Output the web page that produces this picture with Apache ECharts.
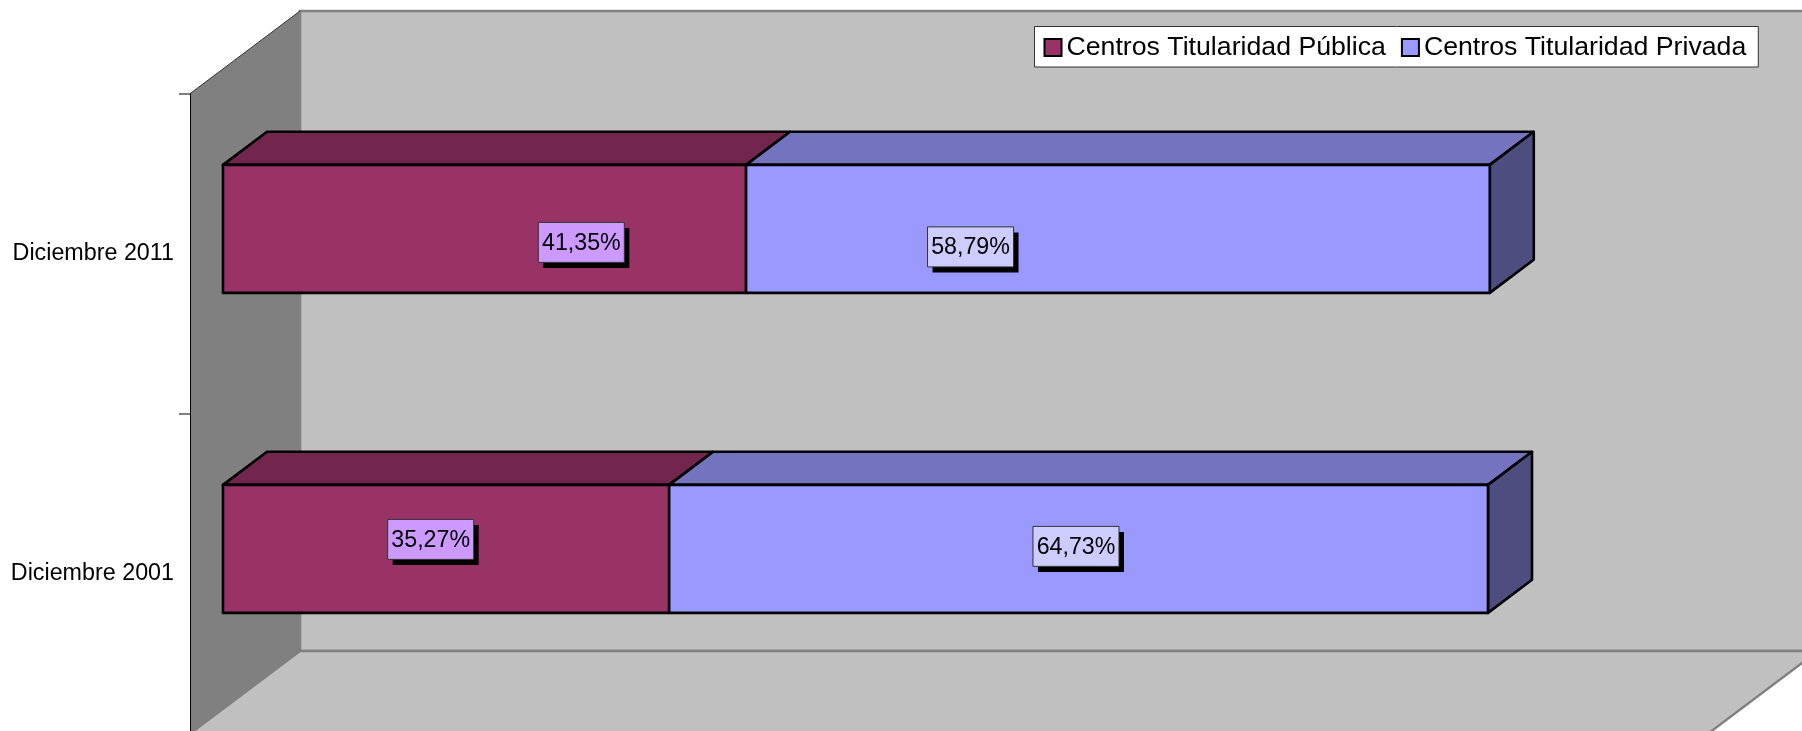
<!DOCTYPE html>
<html>
<head>
<meta charset="utf-8">
<style>html,body{margin:0;padding:0;background:#fff;overflow:hidden}#c{width:1802px;height:731px}</style>
<script src="https://cdn.jsdelivr.net/npm/echarts@6/dist/echarts.min.js"></script>
</head>
<body>
<div id="c"></div>
<script>
const categories = ['Diciembre 2001', 'Diciembre 2011'];
const publicName = 'Centros Titularidad Pública';
const privateName = 'Centros Titularidad Privada';
const publicValues = [35.27, 41.35];
const privateValues = [64.73, 58.79];

// Hand-placed data label shift from the centre of each bar segment (px)
const publicLabelShift = [[-15.4, -9.5], [96.8, 13.5]];
const privateLabelShift = [[-2.6, -2.5], [-147.4, 18]];

// Oblique projection of the chart's depth
const DEPTH_X = 110, DEPTH_Y = 82.7;
const BAR_NEAR = 0.3, BAR_THICK = 0.4;
const FONT = '"Liberation Sans", Arial, sans-serif';

function wallsRender(params, api) {
  const g = params.coordSys;
  const l = g.x, r = g.x + g.width, t = g.y, b = g.y + g.height;
  const dx = DEPTH_X, dy = DEPTH_Y;
  const edge = '#808080';
  return {
    type: 'group',
    children: [
      { type: 'polygon', shape: { points: [[l + dx, t - dy], [r + dx, t - dy], [r + dx, b - dy], [l + dx, b - dy]] },
        style: { fill: '#C0C0C0', stroke: edge, lineWidth: 2.6 } },
      { type: 'polygon', shape: { points: [[l, b], [r, b], [r + dx, b - dy], [l + dx, b - dy]] },
        style: { fill: '#C0C0C0', stroke: edge, lineWidth: 2.4 } },
      { type: 'polygon', shape: { points: [[l, t], [l + dx, t - dy], [l + dx, b - dy], [l, b]] },
        style: { fill: '#808080' } },
      { type: 'line', shape: { x1: l, y1: t, x2: l + dx, y2: t - dy },
        style: { stroke: '#333', lineWidth: 1 } }
    ]
  };
}

function barRender(front, top, side, boxFill, startValues, shifts, drawSide) {
  return function (params, api) {
    const i = params.dataIndex;
    const value = api.value(0), cat = api.value(1);
    const start = startValues ? startValues[i] : 0;
    const p0 = api.coord([start, cat]);
    const p1 = api.coord([start + value, cat]);
    const h = api.size([0, 1])[1] * BAR_THICK;
    const nx = DEPTH_X * BAR_NEAR, ny = DEPTH_Y * BAR_NEAR;
    const fx = DEPTH_X * BAR_THICK, fy = DEPTH_Y * BAR_THICK;
    const x0 = p0[0] + nx, x1 = p1[0] + nx;
    const y0 = p0[1] - ny - h / 2, y1 = y0 + h;
    const ink = { stroke: '#000', lineWidth: 2.6, lineJoin: 'round' };
    const kids = [
      { type: 'polygon', shape: { points: [[x0, y0], [x1, y0], [x1 + fx, y0 - fy], [x0 + fx, y0 - fy]] },
        style: Object.assign({ fill: top }, ink) }
    ];
    if (drawSide) {
      kids.push({ type: 'polygon', shape: { points: [[x1, y0], [x1 + fx, y0 - fy], [x1 + fx, y1 - fy], [x1, y1]] },
        style: Object.assign({ fill: side }, ink) });
    }
    kids.push({ type: 'polygon', shape: { points: [[x0, y0], [x1, y0], [x1, y1], [x0, y1]] },
      style: Object.assign({ fill: front }, ink) });

    const cx = (x0 + x1) / 2 + shifts[i][0], cy = (y0 + y1) / 2 + shifts[i][1];
    const bw = 86, bh = 40;
    kids.push(
      { type: 'rect', shape: { x: cx - bw / 2 + 5, y: cy - bh / 2 + 5.5, width: bw, height: bh }, style: { fill: '#000' } },
      { type: 'rect', shape: { x: cx - bw / 2, y: cy - bh / 2, width: bw, height: bh },
        style: { fill: boxFill, stroke: '#333', lineWidth: 1 } },
      { type: 'text', style: { text: value.toFixed(2).replace('.', ',') + '%', x: cx, y: cy + 1.2,
        align: 'center', verticalAlign: 'middle', fill: '#000', font: '23.2px ' + FONT } }
    );
    return { type: 'group', children: kids };
  };
}

const chart = echarts.init(document.getElementById('c'), null, { renderer: 'canvas', width: 1802, height: 731 });
chart.setOption({
  animation: false,
  backgroundColor: '#fff',
  grid: { left: 190, top: 93.7, width: 1518, height: 640, containLabel: false, outerBoundsMode: 'none' },
  xAxis: { type: 'value', min: 0, max: 120, show: false },
  yAxis: {
    type: 'category', data: categories, z: 3,
    axisLine: { show: true, lineStyle: { color: '#000', width: 1 } },
    axisTick: { show: true, length: 11, lineStyle: { color: '#808080', width: 2 } },
    axisLabel: { color: '#000', fontSize: 23.3, fontFamily: FONT, margin: 16, padding: [4, 0, 0, 0] },
    splitLine: { show: false }
  },
  legend: {
    left: 1034.5, top: 26.5, orient: 'horizontal',
    data: [
      { name: publicName, icon: 'rect', itemStyle: { color: '#993366', borderColor: '#000', borderWidth: 2 } },
      { name: privateName, icon: 'rect', itemStyle: { color: '#9999FF', borderColor: '#000', borderWidth: 2 } }
    ],
    itemWidth: 17, itemHeight: 17, itemGap: 15,
    padding: [7.5, 12, 6, 9],
    backgroundColor: '#fff', borderColor: '#333', borderWidth: 1,
    selectedMode: false,
    textStyle: { color: '#000', fontSize: 26.7, fontFamily: FONT }
  },
  series: [
    { type: 'custom', name: 'walls', silent: true, z: 1, clip: false,
      encode: { x: 0, y: 1 }, data: [[0, 0]], renderItem: wallsRender },
    { type: 'custom', name: publicName, silent: true, z: 2, clip: false,
      encode: { x: 0, y: 1 }, itemStyle: { color: '#993366' },
      data: publicValues.map((v, i) => [v, i]),
      renderItem: barRender('#993366', '#73264D', '#4D1A33', '#CC99FF', null, publicLabelShift, false) },
    { type: 'custom', name: privateName, silent: true, z: 2, clip: false,
      encode: { x: 0, y: 1 }, itemStyle: { color: '#9999FF' },
      data: privateValues.map((v, i) => [v, i]),
      renderItem: barRender('#9999FF', '#7373BF', '#4D4D80', '#CCCCFF', publicValues, privateLabelShift, true) }
  ]
});
</script>
</body>
</html>
